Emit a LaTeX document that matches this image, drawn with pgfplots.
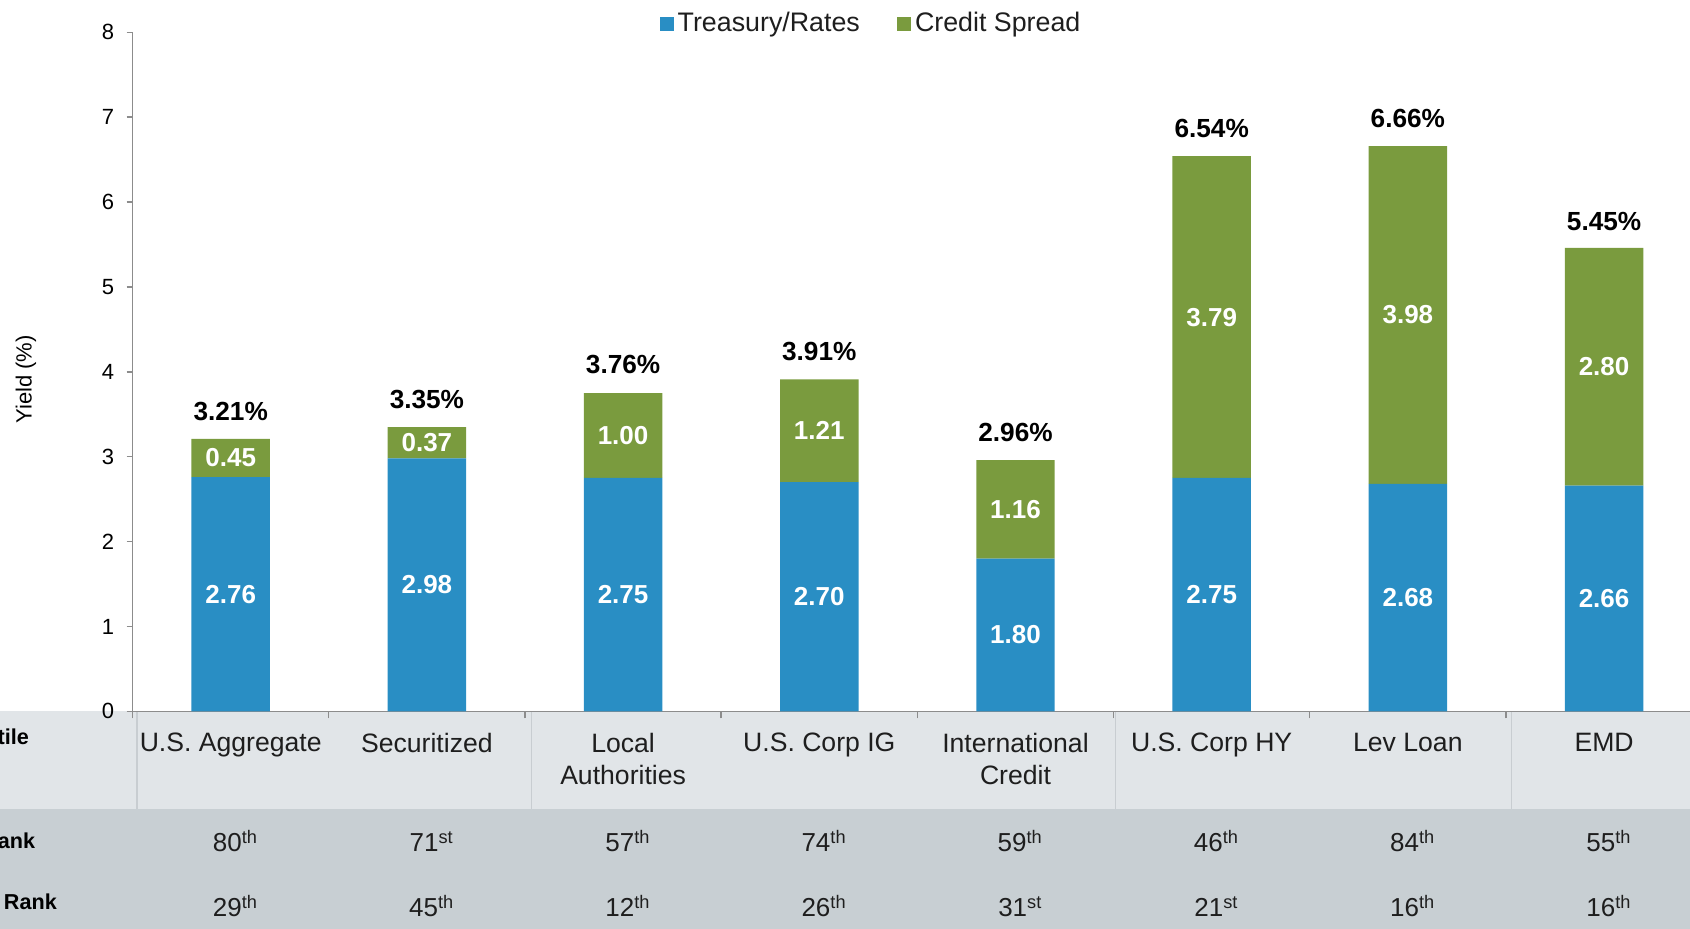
\documentclass[border=0pt]{standalone}
\usepackage{fontspec}
\setmainfont{Liberation Sans}
\usepackage{pgfplots}
\pgfplotsset{compat=1.18}
\definecolor{treas}{RGB}{41,142,196}
\definecolor{cred}{RGB}{122,155,62}
\definecolor{rowA}{RGB}{225,229,232}
\definecolor{rowB}{RGB}{200,207,211}
\definecolor{sepc}{RGB}{200,205,209}
\definecolor{axgray}{RGB}{140,140,140}
\definecolor{txt}{RGB}{30,30,30}
\begin{document}
\begin{tikzpicture}
\path[use as bounding box] (0,0) rectangle (845pt,464.5pt);
\clip (0,0) rectangle (845pt,464.5pt);
\fill[rowA] (0,60pt) rectangle (845pt,108.8pt);
\fill[rowB] (0,0) rectangle (845pt,60pt);
\foreach \xx in {68.4,265.6,557.8,755.6} \draw[sepc, line width=0.7pt] (\xx pt,60pt) -- (\xx pt,108.8pt);
\node[anchor=east, font=\fontsize{10.8}{12}\selectfont\bfseries, inner sep=0pt, text=black] at (14.6pt, 96pt) {Yield Percentile};
\node[anchor=east, font=\fontsize{10.8}{12}\selectfont\bfseries, inner sep=0pt, text=black] at (17.8pt, 44.1pt) {Yield Rank};
\node[anchor=east, font=\fontsize{10.8}{12}\selectfont\bfseries, inner sep=0pt, text=black] at (28.6pt, 12.5pt) {Spread Rank};
\begin{axis}[
  at={(66.3pt,108.8pt)}, anchor=south west,
  scale only axis, width=778.7pt, height=339.55pt,
  xmin=-0.5, xmax=7.438, ymin=0, ymax=8,
  ybar stacked, bar width=0.4,
  axis x line*=bottom, axis y line*=left,
  axis line style={axgray, line width=0.8pt},
  ytick={0,...,8},
  xtick={0,...,7},
  xticklabels={U.S. Aggregate, Securitized, {Local\\Authorities}, U.S. Corp IG, {International\\Credit}, U.S. Corp HY, Lev Loan, EMD},
  major x tick style={draw=none},
  minor xtick={-0.5,0.5,...,6.5},
  minor tick length=3.5pt, major tick length=3pt,
  tick align=outside,
  tick style={axgray, line width=0.7pt},
  xticklabel style={anchor=north, inner sep=0pt, yshift=-7.8pt, align=center, text=txt, font=\fontsize{13.3}{15.8}\selectfont},
  yticklabel style={font=\fontsize{11}{12}\selectfont, text=black, xshift=-2.7pt},
  /pgf/number format/assume math mode=true,
  every axis y label/.style={at={(axis description cs:-0.0685,0.489)}, rotate=90, anchor=center, font=\fontsize{11}{12}\selectfont, text=black},
  ylabel={Yield (\%)},
  legend style={at={(0.4748,1.0128)}, anchor=center, draw=none, fill=none, inner sep=0pt, legend columns=2, font=\fontsize{13.4}{15}\selectfont, text=txt, /tikz/every even column/.append style={column sep=16.6pt}},
  legend image code/.code={\fill[#1] (0pt,-3.5pt) rectangle (7pt,3.5pt);},
  nodes near coords={\pgfmathprintnumber[fixed,fixed zerofill,precision=2]{\pgfplotspointmeta}},
  every node near coord/.append style={anchor=center, inner sep=0pt, text=white, font=\fontsize{13}{15}\selectfont\bfseries},
  clip=false,
]
\addplot[fill=treas, draw=none] coordinates {(0,2.76) (1,2.98) (2,2.75) (3,2.70) (4,1.80) (5,2.75) (6,2.68) (7,2.66)};
\addplot[fill=cred, draw=none] coordinates {(0,0.45) (1,0.37) (2,1.00) (3,1.21) (4,1.16) (5,3.79) (6,3.98) (7,2.80)};
\legend{Treasury/Rates, Credit Spread}
% totals
\foreach \i/\tt in {0/3.21, 1/3.35, 2/3.76, 3/3.91, 4/2.96, 5/6.54, 6/6.66, 7/5.45}{
  \edef\temp{\noexpand\node[text=black, font=\noexpand\fontsize{13.1}{15}\noexpand\selectfont\noexpand\bfseries, inner sep=0pt, anchor=base, yshift=9.3pt] at (axis cs:\i,\tt) {\tt\noexpand\%};}
  \temp
}
% rank rows
\foreach \i/\a/\sa/\c/\sc in {0/80/th/29/th, 1/71/st/45/th, 2/57/th/12/th, 3/74/th/26/th, 4/59/th/31/st, 5/46/th/21/st, 6/84/th/16/th, 7/55/th/16/th}{
  \edef\temp{\noexpand\node[anchor=base, inner sep=0pt, xshift=2.4pt, text=txt, font=\noexpand\fontsize{13}{15}\noexpand\selectfont] at (axis cs:\i,-1.653) {\a\noexpand\textsuperscript{\sa}};
  \noexpand\node[anchor=base, inner sep=0pt, xshift=2.4pt, text=txt, font=\noexpand\fontsize{13}{15}\noexpand\selectfont] at (axis cs:\i,-2.42) {\c\noexpand\textsuperscript{\sc}};}
  \temp
}
\end{axis}
\end{tikzpicture}
\end{document}
